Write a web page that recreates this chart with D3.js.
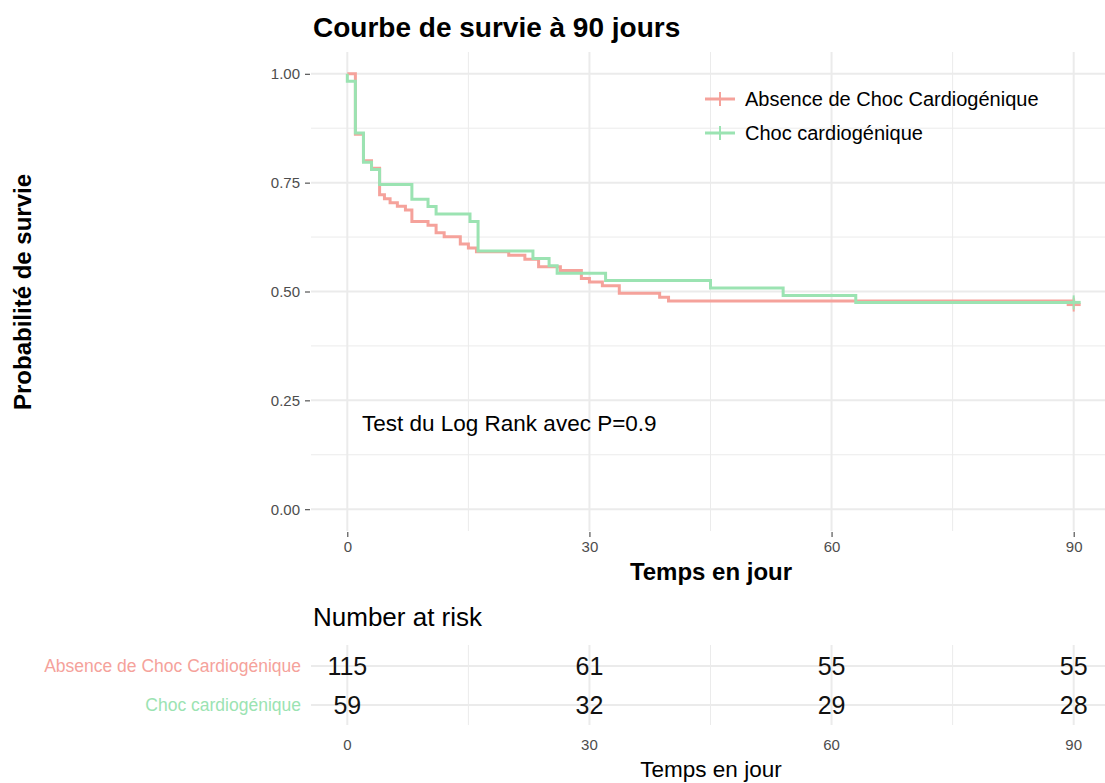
<!DOCTYPE html>
<html>
<head>
<meta charset="utf-8">
<script src="https://cdn.jsdelivr.net/npm/d3@7"></script>
<style>
  body { margin: 0; background: #fff; }
  text { font-family: "Liberation Sans", Arial, Helvetica, sans-serif; }
</style>
</head>
<body>
<div id="chart"></div>
<script>
// groups
var groups = ['Absence de Choc Cardiogénique', 'Choc cardiogénique'];
var colors = ['#F5A29B', '#9BE3B2'];

// Kaplan-Meier steps (time in days, survival)
var timesAbsence = [0, 1, 2, 3, 4, 4.6, 5.3, 6.2, 7.2, 8, 10, 11, 12, 14, 15, 16, 20, 22, 23.7, 26.4, 29, 30, 31.6, 33.7, 38.7, 39.8, 90];
var survAbsence  = [1, 0.861, 0.800, 0.783, 0.722, 0.713, 0.704, 0.696, 0.687, 0.661, 0.652, 0.635, 0.626, 0.609, 0.600, 0.591, 0.583, 0.574, 0.557, 0.548, 0.530, 0.522, 0.513, 0.496, 0.487, 0.478, 0.470];

var timesChoc = [0, 0, 1, 2, 3, 4, 8, 10, 11, 15.2, 16.2, 23, 25, 26, 32, 45, 54, 63, 90];
var survChoc  = [1, 0.983, 0.864, 0.797, 0.780, 0.746, 0.712, 0.695, 0.678, 0.661, 0.593, 0.576, 0.559, 0.542, 0.525, 0.508, 0.491, 0.475, 0.475];

// number at risk table
var riskTimes = [0, 30, 60, 90];
var riskAbsence = [115, 61, 55, 55];
var riskChoc = [59, 32, 29, 28];

var xTicks = [0, 30, 60, 90];
var xMinor = [15, 45, 75];
var yTicks = [0, 0.25, 0.5, 0.75, 1];
var yMinor = [0.125, 0.375, 0.625, 0.875];

var svg = d3.select('#chart')
            .append('svg')
            .attr('width', 1105)
            .attr('height', 783);

var left = 311, right = 1110;
var x = d3.scaleLinear().domain([-4.5, 94.5]).range([left, right]);
var y = d3.scaleLinear().domain([-0.05, 1.05]).range([531, 52]);

var grid = '#EBEBEB';
var tickFont = 15;

// title
svg.append('text')
    .attr('x', 313).attr('y', 37)
    .attr('font-size', 28).attr('font-weight', 'bold')
    .text('Courbe de survie à 90 jours');

// gridlines
var g = svg.append('g');
g.selectAll('.ymin').data(yMinor).enter().append('line')
    .attr('x1', left).attr('x2', right)
    .attr('y1', function (d) { return y(d); }).attr('y2', function (d) { return y(d); })
    .attr('stroke', grid).attr('stroke-width', 1);
g.selectAll('.xmin').data(xMinor).enter().append('line')
    .attr('y1', 52).attr('y2', 531)
    .attr('x1', function (d) { return x(d); }).attr('x2', function (d) { return x(d); })
    .attr('stroke', grid).attr('stroke-width', 1);
g.selectAll('.ymaj').data(yTicks).enter().append('line')
    .attr('x1', left).attr('x2', right)
    .attr('y1', function (d) { return y(d); }).attr('y2', function (d) { return y(d); })
    .attr('stroke', grid).attr('stroke-width', 2);
g.selectAll('.xmaj').data(xTicks).enter().append('line')
    .attr('y1', 52).attr('y2', 531)
    .attr('x1', function (d) { return x(d); }).attr('x2', function (d) { return x(d); })
    .attr('stroke', grid).attr('stroke-width', 2);

// axes
var yAxis = svg.append('g')
    .attr('transform', 'translate(' + (left - 1) + ',0)')
    .call(d3.axisLeft(y).tickValues(yTicks).tickFormat(d3.format('.2f')).tickSize(5).tickPadding(5));
var xAxis = svg.append('g')
    .attr('transform', 'translate(0,532)')
    .call(d3.axisBottom(x).tickValues(xTicks).tickSize(5).tickPadding(4));
[yAxis, xAxis].forEach(function (a) {
    a.select('.domain').remove();
    a.selectAll('line').attr('stroke', '#333').attr('stroke-width', 1);
    a.selectAll('text').attr('fill', '#4D4D4D').attr('font-size', tickFont)
        .attr('font-family', '"Liberation Sans", Arial, sans-serif');
});

svg.append('text')
    .attr('transform', 'translate(31,292) rotate(-90)')
    .attr('text-anchor', 'middle')
    .attr('font-size', 24).attr('font-weight', 'bold')
    .text('Probabilité de survie');

svg.append('text')
    .attr('x', 711).attr('y', 580)
    .attr('text-anchor', 'middle')
    .attr('font-size', 24).attr('font-weight', 'bold')
    .text('Temps en jour');

// curves
var line = d3.line()
    .x(function (d) { return x(d[0]); })
    .y(function (d) { return y(d[1]); })
    .curve(d3.curveStepAfter);

var series = [d3.zip(timesAbsence, survAbsence), d3.zip(timesChoc, survChoc)];
series.forEach(function (s, i) {
    svg.append('path')
        .datum(s)
        .attr('d', line)
        .attr('fill', 'none')
        .attr('stroke', colors[i])
        .attr('stroke-width', 3);
    var last = s[s.length - 1];
    svg.append('line')
        .attr('x1', x(last[0])).attr('x2', x(last[0]))
        .attr('y1', y(last[1]) - 7).attr('y2', y(last[1]) + 7)
        .attr('stroke', colors[i]).attr('stroke-width', 2);
    svg.append('line')
        .attr('x1', x(last[0]) - 7).attr('x2', x(last[0]) + 7)
        .attr('y1', y(last[1])).attr('y2', y(last[1]))
        .attr('stroke', colors[i]).attr('stroke-width', 3);
});

// legend
var legend = svg.append('g');
groups.forEach(function (name, i) {
    var ly = 99 + i * 34;
    legend.append('line')
        .attr('x1', 705).attr('x2', 735).attr('y1', ly).attr('y2', ly)
        .attr('stroke', colors[i]).attr('stroke-width', 3);
    legend.append('line')
        .attr('x1', 720).attr('x2', 720).attr('y1', ly - 7).attr('y2', ly + 7)
        .attr('stroke', colors[i]).attr('stroke-width', 2);
    legend.append('text')
        .attr('x', 745).attr('y', ly + 7)
        .attr('font-size', 20)
        .text(name);
});

svg.append('text')
    .attr('x', 362).attr('y', 431)
    .attr('font-size', 22.5)
    .text('Test du Log Rank avec P=0.9');

// number at risk
svg.append('text')
    .attr('x', 313).attr('y', 626)
    .attr('font-size', 26)
    .text('Number at risk');

var rTop = 645, rBot = 725;
var rowY = [666, 705];
var rg = svg.append('g');
rg.selectAll('.rxmin').data(xMinor).enter().append('line')
    .attr('y1', rTop).attr('y2', rBot)
    .attr('x1', function (d) { return x(d); }).attr('x2', function (d) { return x(d); })
    .attr('stroke', grid).attr('stroke-width', 1);
rg.selectAll('.rxmaj').data(xTicks).enter().append('line')
    .attr('y1', rTop).attr('y2', rBot)
    .attr('x1', function (d) { return x(d); }).attr('x2', function (d) { return x(d); })
    .attr('stroke', grid).attr('stroke-width', 2);
rg.selectAll('.ry').data(rowY).enter().append('line')
    .attr('x1', left).attr('x2', right)
    .attr('y1', function (d) { return d; }).attr('y2', function (d) { return d; })
    .attr('stroke', grid).attr('stroke-width', 2);

[riskAbsence, riskChoc].forEach(function (vals, i) {
    svg.append('text')
        .attr('x', 301).attr('y', rowY[i] + 6)
        .attr('text-anchor', 'end')
        .attr('font-size', 17.5)
        .attr('fill', colors[i])
        .text(groups[i]);
    svg.selectAll('.risk' + i).data(d3.zip(riskTimes, vals)).enter().append('text')
        .attr('x', function (d) { return x(d[0]); })
        .attr('y', rowY[i] + 9)
        .attr('text-anchor', 'middle')
        .attr('font-size', 25)
        .attr('fill', '#111')
        .text(function (d) { return d[1]; });
});

svg.selectAll('.rtick').data(xTicks).enter().append('text')
    .attr('x', function (d) { return x(d); })
    .attr('y', 750)
    .attr('text-anchor', 'middle')
    .attr('font-size', tickFont)
    .attr('fill', '#4D4D4D')
    .text(function (d) { return d; });

svg.append('text')
    .attr('x', 711).attr('y', 777)
    .attr('text-anchor', 'middle')
    .attr('font-size', 22.5)
    .text('Temps en jour');
</script>
</body>
</html>
